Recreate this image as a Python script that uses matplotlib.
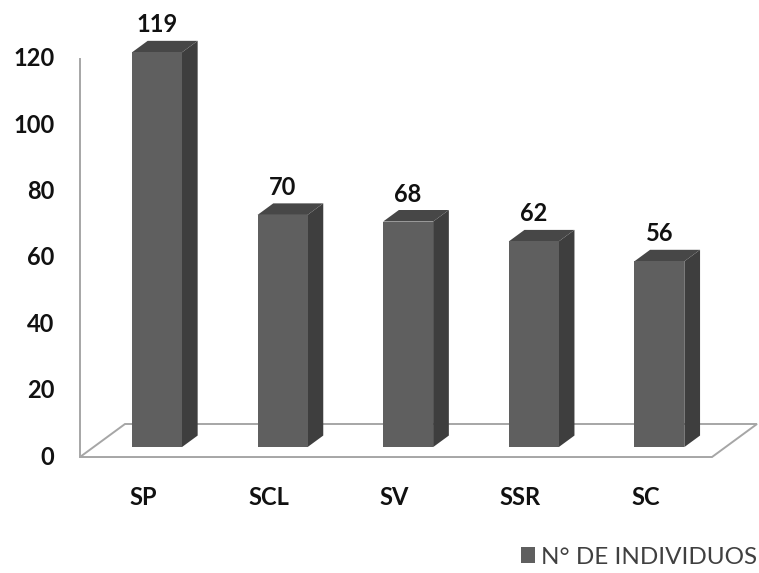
import matplotlib.pyplot as plt
from matplotlib.patches import Polygon, Patch

categories = ['SP', 'SCL', 'SV', 'SSR', 'SC']
individuos = [119, 70, 68, 62, 56]
yticks = [0, 20, 40, 60, 80, 100, 120]

plt.rcParams['font.family'] = ['Lato', 'DejaVu Sans']

fig = plt.figure(figsize=(7.59, 5.73), dpi=100)
ax = fig.add_axes([0, 0, 1, 1])
ax.set_xlim(-1.142, 4.901)
ax.set_ylim(-34.97, 137.78)
ax.axis('off')

# fake 3d: shift for one unit of depth, in data units
DX, DY = 0.358, 9.95


def proj(x, y, d):
    return (x + d * DX, y + d * DY)


grid_col = '#a6a6a6'
floor_l, floor_r = -0.505, 4.527
fs = 17

# floor and value axis
floor = [proj(floor_l, 0, 0), proj(floor_l, 0, 1),
         proj(floor_r, 0, 1), proj(floor_r, 0, 0)]
ax.add_patch(Polygon(floor, closed=True, fill=False, edgecolor=grid_col, lw=1.4))
ax.plot([floor_l, floor_l], [0, yticks[-1]], color=grid_col, lw=1.4)

for t in yticks:
    ax.text(-0.71, t, str(t), ha='right', va='center', fontsize=fs,
            fontweight='bold', color='#111111')

# bars
w = 0.398
d0, d1 = 0.30, 0.65
for i, (cat, v) in enumerate(zip(categories, individuos)):
    x0, x1 = i - w / 2, i + w / 2
    front = [proj(x0, 0, d0), proj(x1, 0, d0), proj(x1, v, d0), proj(x0, v, d0)]
    side = [proj(x1, 0, d0), proj(x1, 0, d1), proj(x1, v, d1), proj(x1, v, d0)]
    top = [proj(x0, v, d0), proj(x1, v, d0), proj(x1, v, d1), proj(x0, v, d1)]
    ax.add_patch(Polygon(side, closed=True, facecolor='#3e3e3e', edgecolor='none'))
    ax.add_patch(Polygon(top, closed=True, facecolor='#474747', edgecolor='none'))
    ax.add_patch(Polygon(front, closed=True, facecolor='#5f5f5f', edgecolor='none'))

    cx, cy = proj(i, v, d0)
    ax.text(cx, cy + 8.3, str(v), ha='center', va='center', fontsize=fs,
            fontweight='bold', color='#111111')
    ax.text(i, -12.06, cat, ha='center', va='center', fontsize=fs,
            fontweight='bold', color='#111111')

ax.legend(handles=[Patch(facecolor='#5f5f5f', label='N° DE INDIVIDUOS')],
          loc='lower right', bbox_to_anchor=(1.014, -0.012), frameon=False,
          fontsize=17.5, handlelength=0.6, handleheight=0.6, handletextpad=0.25,
          borderaxespad=0.1, labelcolor='#404040')

fig.savefig('out.png', dpi=100)
